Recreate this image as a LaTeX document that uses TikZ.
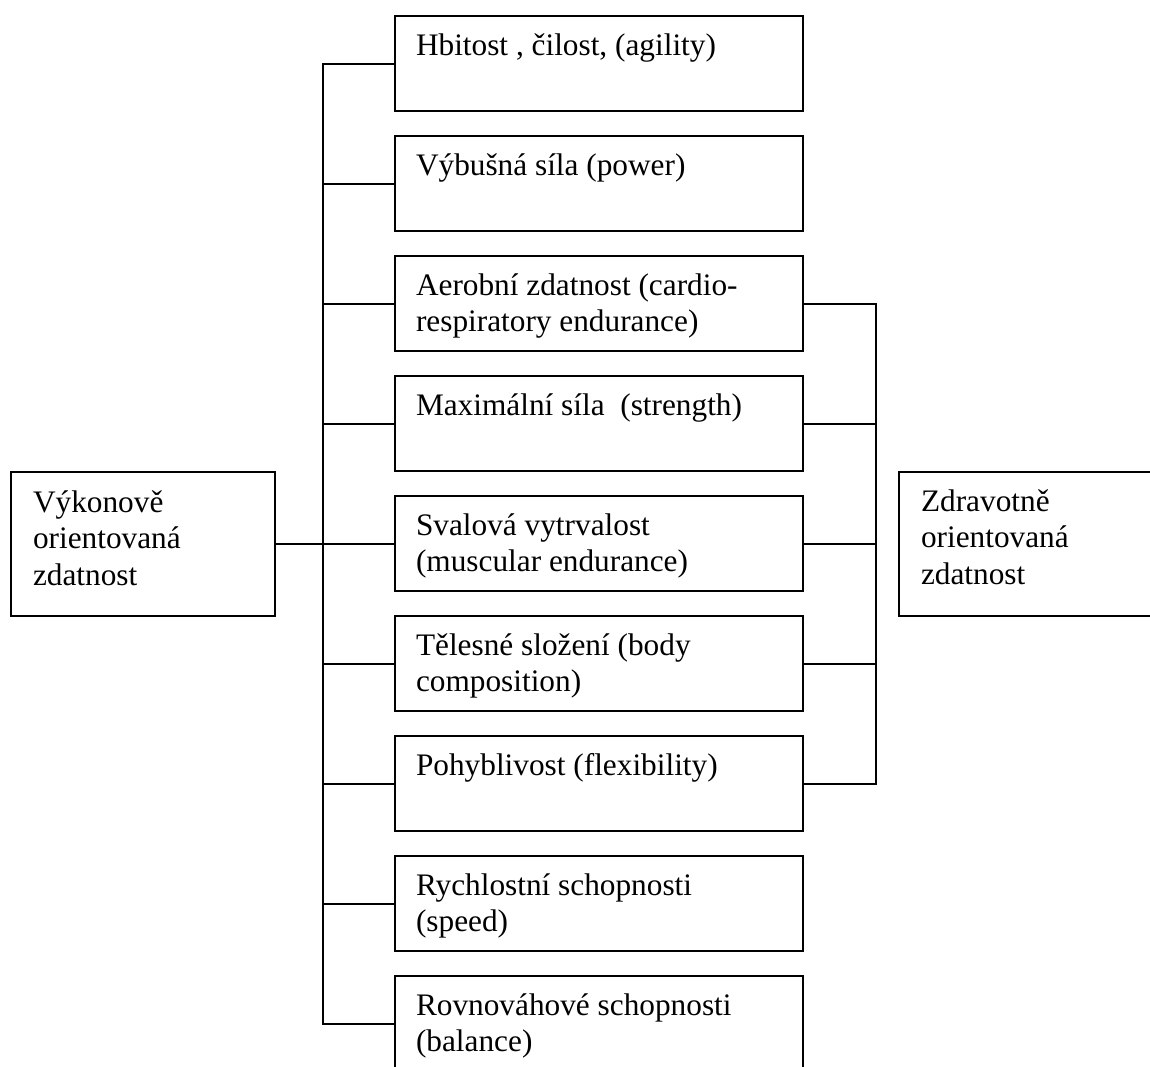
\documentclass[tikz,border=0pt]{standalone}
\usepackage{fontspec}
\setmainfont{Liberation Serif}
\newcommand\bxt[1]{\parbox[t]{240pt}{\raggedright #1}}
\begin{document}
\begin{tikzpicture}[x=0.5pt,y=-0.5pt,
  line width=1pt,
  midbox/.style={draw, rectangle, inner sep=0pt, minimum width=204pt, minimum height=47.5pt},
  sidebox/.style={draw, rectangle, inner sep=0pt, minimum width=132pt, minimum height=72pt},
  lbl/.style={anchor=base west, inner sep=0pt, font=\fontsize{15.65}{18.35}\selectfont}]
\useasboundingbox (0,0) rectangle (1150,1066);
\clip (0,0) rectangle (1150,1066);
\fill[white] (0,0) rectangle (1150,1066);
% middle boxes
\foreach \i in {1,...,9} {
  \pgfmathsetmacro{\tp}{16+120*(\i-1)}
  \node[midbox] (b\i) at (599,\tp+47.5) {};
}
\node[sidebox] (L) at (143,544) {};
\node[sidebox] (R) at (1031,544) {};
% texts
\node[lbl] (t1) at (415,55) {\bxt{Hbitost , čilost, (agility)}};
\node[lbl] (t2) at (415,175) {\bxt{Výbušná síla (power)}};
\node[lbl] (t3) at (415,295) {\bxt{Aerobní zdatnost (cardio-\\respiratory endurance)}};
\node[lbl] (t4) at (415,415) {\bxt{Maximální síla\ \ (strength)}};
\node[lbl] (t5) at (415,535) {\bxt{Svalová vytrvalost\\(muscular endurance)}};
\node[lbl] (t6) at (415,655) {\bxt{Tělesné složení (body\\composition)}};
\node[lbl] (t7) at (415,775) {\bxt{Pohyblivost (flexibility)}};
\node[lbl] (t8) at (415,895) {\bxt{Rychlostní schopnosti\\(speed)}};
\node[lbl] (t9) at (415,1015) {\bxt{Rovnováhové schopnosti\\(balance)}};
\node[lbl] (tL) at (32,512) {\bxt{Výkonově\\orientovaná\\zdatnost}};
\node[lbl] (tR) at (920,511) {\bxt{Zdravotně\\orientovaná\\zdatnost}};
% connectors
\coordinate (tr) at (323,0);
\coordinate (rb) at (876,0);
\draw (b1.west) -- (b1.west -| tr) -- (b9.west -| tr) -- (b9.west);
\foreach \i in {2,...,8} { \draw (b\i.west) -- (b\i.west -| tr); }
\draw (L.east) -- (L.east -| tr);
\draw (b3.east) -- (b3.east -| rb) -- (b7.east -| rb) -- (b7.east);
\foreach \i in {4,5,6} { \draw (b\i.east) -- (b\i.east -| rb); }
\end{tikzpicture}
\end{document}
